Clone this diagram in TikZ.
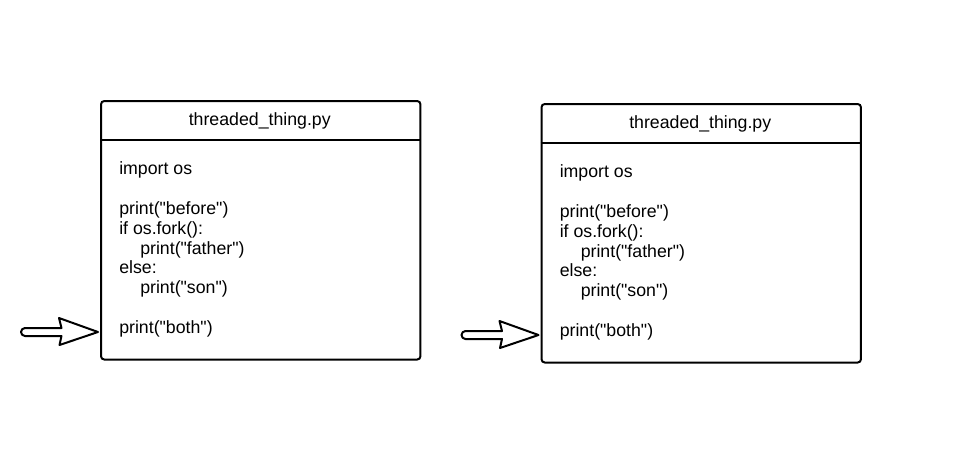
\documentclass[tikz,border=0pt]{standalone}
\usepackage{fontspec}
\setmainfont{Liberation Sans}[Ligatures=TeXOff]
\usepackage{tikz}

\begin{document}
\begin{tikzpicture}[x=0.75pt,y=-0.75pt,
    filebox/.style={draw,line width=1.5pt,rounded corners=2.5pt,minimum width=239.6pt,
        minimum height=193.9pt,inner sep=0pt,anchor=north west},
    rule/.style={line width=1.5pt},
    code/.style={inner sep=0pt,anchor=base west,font=\fontsize{13.3}{16}\selectfont},
    blockarrow/.style={draw,line width=1.5pt,line join=round,fill=white}]
    \useasboundingbox (0,0) rectangle (960,462);
    \foreach \bx/\by/\n in {0/0/l,440.5/3/r} {
        \node[filebox] (file-\n) at (100+\bx,100+\by) {};
        \node[code,anchor=base] (title-\n) at (259.75+\bx,125+\by) {threaded\_thing.py};
        \draw[rule] (file-\n.west |- 0,139.5+\by) -- (file-\n.east |- 0,139.5+\by);
        \foreach \k/\dx/\t in {0/0/import os,2/0/print("before"),3/0/if os.fork():,
                4/21/print("father"),5/0/else:,6/21/print("son"),8/0/print("both")} {
            \node[code] (code-\n-\k) at (119+\bx+\dx,174.7+19.85*\k+\by) {\t};
        }
        % hollow arrow at the last line
        \coordinate (tip-\n) at (98+\bx,332+\by);
        \draw[blockarrow] (tip-\n) -- ++(-39,-14) -- ++(2.5,10) -- ++(-36.5,0)
            arc[start angle=270,end angle=90,radius=4] -- ++(36.5,0) -- ++(-2,9) -- cycle;
    }
\end{tikzpicture}
\end{document}
